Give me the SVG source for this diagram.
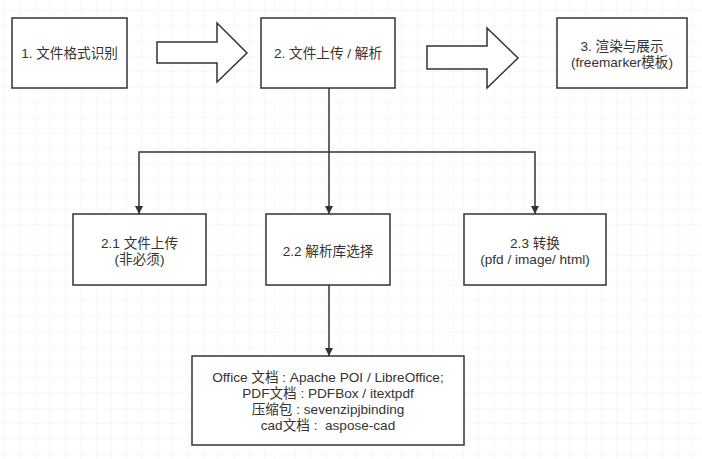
<svg xmlns="http://www.w3.org/2000/svg" width="702" height="459" viewBox="0 0 702 459">
<defs>
<pattern id="grid" x="4" y="10" width="15.3" height="15.3" patternUnits="userSpaceOnUse">
<path d="M0 0 V15.3 M0 0 H15.3" fill="none" stroke="#efefef" stroke-width="1"/>
</pattern>
<marker id="arr" viewBox="0 0 10 10" refX="10" refY="5" markerWidth="8" markerHeight="8" markerUnits="userSpaceOnUse" orient="auto">
<path d="M0 0 L10 5 L0 10 Z" fill="#333"/>
</marker>
<style>
.box{fill:#fff;stroke:#333;stroke-width:1.5}
.t{font-family:"Liberation Sans","Noto Sans CJK SC",sans-serif;font-size:13.6px;fill:#333;text-anchor:middle;dominant-baseline:central}
.c{fill:none;stroke:#333;stroke-width:1.5}
.big{fill:#fff;stroke:#333;stroke-width:1.5;stroke-linejoin:miter}
</style>
</defs>
<rect width="702" height="459" fill="#fff"/>
<rect width="702" height="459" fill="url(#grid)"/>
<g id="connectors">
<path class="big" d="M157 42 H217 V23 L247 53 L217 82 V63 H157 Z"/>
<path class="big" d="M427 46 H487 V28 L518 58 L487 88 V69 H427 Z"/>
<path class="c" d="M329 88 V214" marker-end="url(#arr)"/>
<path class="c" d="M329 152 H139 V214" marker-end="url(#arr)"/>
<path class="c" d="M329 152 H535 V214" marker-end="url(#arr)"/>
<path class="c" d="M329 285 V356" marker-end="url(#arr)"/>
</g>
<g id="n1"><rect class="box" x="12" y="18" width="115" height="70"/><text class="t" x="69.5" y="53">1. 文件格式识别</text></g>
<g id="n2"><rect class="box" x="261" y="18" width="134" height="70"/><text class="t" x="328" y="53">2. 文件上传 / 解析</text></g>
<g id="n3"><rect class="box" x="557" y="18" width="130" height="70"/><text class="t" x="622" y="46">3. 渲染与展示</text><text class="t" x="622" y="62">(freemarker模板)</text></g>
<g id="n21"><rect class="box" x="73" y="214" width="133" height="71"/><text class="t" x="139.5" y="243">2.1 文件上传</text><text class="t" x="139.5" y="259">(非必须)</text></g>
<g id="n22"><rect class="box" x="266" y="214" width="124" height="71"/><text class="t" x="328" y="251">2.2 解析库选择</text></g>
<g id="n23"><rect class="box" x="464" y="214" width="142" height="71"/><text class="t" x="535" y="243">2.3 转换</text><text class="t" x="535" y="259">(pfd / image/ html)</text></g>
<g id="n4"><rect class="box" x="192" y="356" width="272" height="89"/>
<text class="t" x="328" y="377">Office 文档 : Apache POI / LibreOffice;</text>
<text class="t" x="328" y="393">PDF文档 : PDFBox / itextpdf</text>
<text class="t" x="328" y="409">压缩包 : sevenzipjbinding</text>
<text class="t" x="328" y="425" xml:space="preserve">cad文档 :  aspose-cad</text>
</g>
</svg>
